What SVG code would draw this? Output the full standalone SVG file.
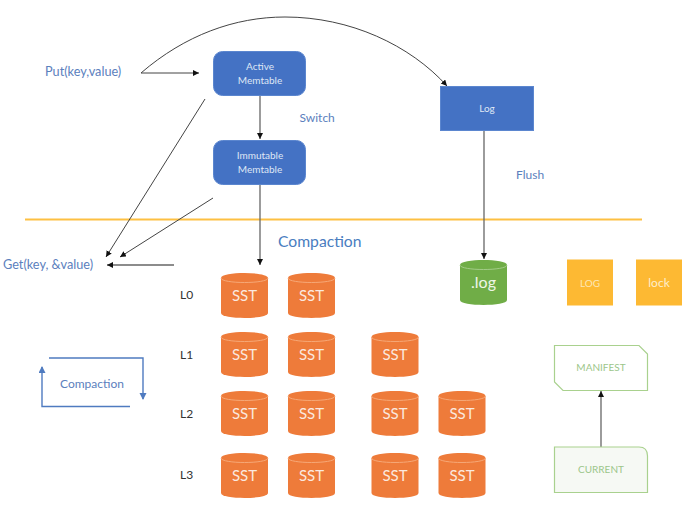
<svg xmlns="http://www.w3.org/2000/svg" width="684" height="506" viewBox="0 0 684 506">
<style>
text{font-family:Lato,"Open Sans","Liberation Sans",sans-serif}
.lbl{fill:#5b80bd;font-size:12.700px}
.sm{font-size:12px}
.mem{fill:#dfe7f5;font-size:10px;text-anchor:middle}
.sst{fill:#fbe9df;font-size:15px;text-anchor:middle}
.lv{fill:#333;font-size:12px}
.box{fill:#4472c4;stroke:#5b86cf;stroke-width:1}
.org{fill:#fdb933}
.gbox{stroke:#a9d18e;stroke-width:1.2}
.gt{fill:#9cc68a;font-size:10px;text-anchor:middle}
.k{fill:none;stroke:#444;stroke-width:1}
.k2{fill:none;stroke:#666;stroke-width:1.3}
.b{fill:none;stroke:#4f7bc0;stroke-width:1.4}
</style>
<defs>
<marker id="a" markerWidth="7" markerHeight="7" refX="6" refY="3" orient="auto" markerUnits="userSpaceOnUse"><path d="M0,0L6,3L0,6z" fill="#111"/></marker>
<marker id="ab" markerWidth="8" markerHeight="8" refX="6" refY="3.5" orient="auto" markerUnits="userSpaceOnUse"><path d="M0,0L7,3.5L0,7z" fill="#4f7bc0"/></marker>
<g id="cy"><path d="M0,5C0,-1.6 47,-1.6 47,5V40C47,46.6 0,46.6 0,40z" fill="#ee7b3a"/><path d="M0,5C0,11 47,11 47,5" fill="none" stroke="#f6a877" stroke-width="1"/></g>
<g id="cg"><path d="M0,5C0,-1.6 47,-1.6 47,5V40C47,46.6 0,46.6 0,40z" fill="#70ad47"/><path d="M0,5C0,11 47,11 47,5" fill="none" stroke="#a3cc88" stroke-width="1"/></g>
</defs>
<rect width="684" height="506" fill="#fff"/>
<line x1="25" y1="219.5" x2="642" y2="219.5" stroke="#fdc042" stroke-width="2"/>
<g id="connectors">
<path class="k" d="M141,73H199" marker-end="url(#a)"/>
<path class="k" d="M141,73C185,35 235,17 285,17C350,17 410,45 447,86" marker-end="url(#a)"/>
<path class="k2" d="M260,96V139" marker-end="url(#a)"/>
<path class="k2" d="M260,185V265" marker-end="url(#a)"/>
<path class="k" d="M205,99L106,257" marker-end="url(#a)"/>
<path class="k" d="M213,198L120,257" marker-end="url(#a)"/>
<path class="k2" d="M174,265H107" marker-end="url(#a)"/>
<path class="k2" d="M484,131V259" marker-end="url(#a)"/>
<path class="k2" d="M601,447V391" marker-end="url(#a)"/>
<path class="b" d="M49,358H143V399" marker-end="url(#ab)"/>
<path class="b" d="M130,406.500H42V367" marker-end="url(#ab)"/>
</g>
<g id="put"><text class="lbl" x="45" y="76">Put(key,value)</text></g>
<g id="get"><text class="lbl" x="3" y="269">Get(key, &amp;value)</text></g>
<g id="switch"><text class="lbl sm" x="299.500" y="122">Switch</text></g>
<g id="flush"><text class="lbl sm" x="516" y="179">Flush</text></g>
<g id="compaction-title"><text x="278" y="247" fill="#4a7dbf" font-size="15.700">Compaction</text></g>
<g id="compaction-loop"><text class="lbl sm" x="60" y="388">Compaction</text></g>
<g id="active"><rect class="box" x="213.500" y="51.500" width="92" height="44" rx="9"/><text class="mem" x="260" y="70">Active</text><text class="mem" x="260" y="84">Memtable</text></g>
<g id="immutable"><rect class="box" x="213.500" y="140.500" width="92" height="44" rx="9"/><text class="mem" x="260" y="159">Immutable</text><text class="mem" x="260" y="173">Memtable</text></g>
<g id="log"><rect class="box" x="440.500" y="86.500" width="93" height="44"/><text class="mem" x="487" y="112">Log</text></g>
<g id="dotlog"><use href="#cg" x="460" y="260"/><text x="483.500" y="288" fill="#eef6e8" font-size="16" text-anchor="middle">.log</text></g>
<g id="LOG"><rect class="org" x="567" y="259.500" width="46" height="46"/><text x="590" y="287" fill="#fde7b5" font-size="10" text-anchor="middle">LOG</text></g>
<g id="lock"><rect class="org" x="636" y="259.500" width="46" height="46"/><text x="659" y="287" fill="#fdeecb" font-size="12" text-anchor="middle">lock</text></g>
<g id="manifest"><path class="gbox" fill="#fff" d="M554.500,345.500H639L647.500,354V390.500H563L554.500,382z"/><text class="gt" x="601" y="371">MANIFEST</text></g>
<g id="current"><path class="gbox" fill="#f6f9f4" d="M554.500,447H639Q647.500,447 647.500,456V492.500H554.500z"/><text class="gt" x="601" y="473">CURRENT</text></g>
<g id="levels"><text class="lv" x="180" y="299">L0</text><text class="lv" x="180" y="359">L1</text><text class="lv" x="180" y="418">L2</text><text class="lv" x="180" y="479">L3</text></g>
<g id="sst-l0-1"><use href="#cy" x="221" y="273"/><text class="sst" x="244.500" y="301">SST</text></g>
<g id="sst-l0-2"><use href="#cy" x="288" y="273"/><text class="sst" x="311.500" y="301">SST</text></g>
<g id="sst-l1-1"><use href="#cy" x="221" y="332"/><text class="sst" x="244.500" y="360">SST</text></g>
<g id="sst-l1-2"><use href="#cy" x="288" y="332"/><text class="sst" x="311.500" y="360">SST</text></g>
<g id="sst-l1-3"><use href="#cy" x="371.500" y="332"/><text class="sst" x="395" y="360">SST</text></g>
<g id="sst-l2-1"><use href="#cy" x="221" y="391"/><text class="sst" x="244.500" y="419">SST</text></g>
<g id="sst-l2-2"><use href="#cy" x="288" y="391"/><text class="sst" x="311.500" y="419">SST</text></g>
<g id="sst-l2-3"><use href="#cy" x="371.500" y="391"/><text class="sst" x="395" y="419">SST</text></g>
<g id="sst-l2-4"><use href="#cy" x="438.500" y="391"/><text class="sst" x="462" y="419">SST</text></g>
<g id="sst-l3-1"><use href="#cy" x="221" y="453"/><text class="sst" x="244.500" y="481">SST</text></g>
<g id="sst-l3-2"><use href="#cy" x="288" y="453"/><text class="sst" x="311.500" y="481">SST</text></g>
<g id="sst-l3-3"><use href="#cy" x="371.500" y="453"/><text class="sst" x="395" y="481">SST</text></g>
<g id="sst-l3-4"><use href="#cy" x="438.500" y="453"/><text class="sst" x="462" y="481">SST</text></g>
</svg>
